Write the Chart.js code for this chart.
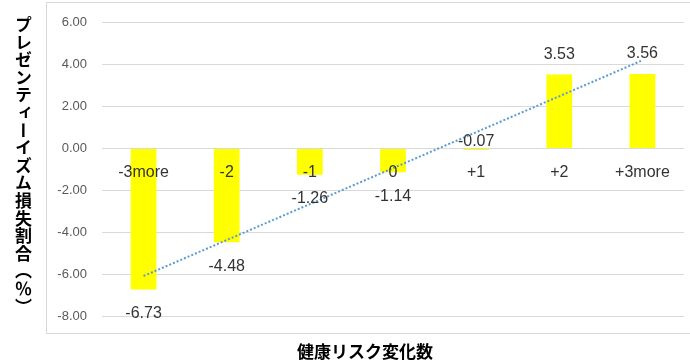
<!DOCTYPE html>
<html lang="ja">
<head>
<meta charset="utf-8">
<script src="https://cdn.jsdelivr.net/npm/chart.js@4.4.1/dist/chart.umd.min.js"></script>
<style>
    body { margin: 0; background: #fff; }
    #wrap { position: relative; width: 690px; height: 363px; overflow: hidden; }
    #frame { position: absolute; left: 46px; top: 2px; width: 660px; height: 330px; border: 1px solid #d9d9d9; }
    #grafico { position: absolute; left: 0; top: 0; }
    #tituloY {
        position: absolute; left: 14px; top: 16px;
        writing-mode: vertical-rl; text-orientation: upright;
        font-family: 'Noto Sans CJK JP', sans-serif; font-weight: bold;
        font-size: 17px; line-height: 18px; letter-spacing: 0.6px; color: #000;
    }
    #tituloX {
        position: absolute; left: 295px; top: 339px; width: 140px; text-align: center;
        font-family: 'Noto Sans CJK JP', sans-serif; font-weight: bold;
        font-size: 17px; line-height: 24px; color: #000; white-space: nowrap;
    }
</style>
</head>
<body>
<div id="wrap">
    <div id="frame"></div>
    <canvas id="grafico" width="690" height="363"></canvas>
    <div id="tituloY">プレゼンティーイズム損失割合︵％︶</div>
    <div id="tituloX">健康リスク変化数</div>
</div>
<script>
// categorias e valores
const categorias = ['-3more', '-2', '-1', '0', '+1', '+2', '+3more'];
const valores = [-6.73, -4.48, -1.26, -1.14, -0.07, 3.53, 3.56];
// linha de tendência (extremos)
const tendencia = [-6.09, null, null, null, null, null, 4.21];
const eixoY = { min: -8, max: 6, passo: 2 };

// rótulos das categorias (na linha do zero) e dos valores
const rotulos = {
    id: 'rotulos',
    afterDatasetsDraw(chart) {
        const ctx = chart.ctx;
        const y = chart.scales.y;
        const meta = chart.getDatasetMeta(1);
        const zero = y.getPixelForValue(0);
        ctx.save();
        ctx.font = '16px "Liberation Sans", Arial, sans-serif';
        ctx.textAlign = 'center';
        ctx.textBaseline = 'middle';
        ctx.fillStyle = '#333333';
        meta.data.forEach((bar, i) => {
            const v = valores[i];
            ctx.fillText(categorias[i], bar.x, zero + 24);
            const fim = y.getPixelForValue(v);
            let py;
            if (v >= 0) py = fim - 20;
            else if (v > -0.5) py = fim - 8;
            else py = fim + 24;
            ctx.fillText(v.toFixed(2), bar.x, py);
        });
        ctx.restore();
    }
};

new Chart(document.getElementById('grafico').getContext('2d'), {
    data: {
        labels: categorias,
        datasets: [{
            type: 'line',
            data: tendencia,
            spanGaps: true,
            borderColor: '#5b9bd5',
            borderWidth: 2,
            borderDash: [2, 2],
            pointRadius: 0,
            order: 0
        }, {
            type: 'bar',
            data: valores,
            backgroundColor: '#ffff00',
            borderWidth: 0,
            barPercentage: 0.31,
            categoryPercentage: 1,
            order: 1
        }]
    },
    options: {
        responsive: false,
        devicePixelRatio: 1,
        animation: false,
        layout: { padding: { left: 46, top: 18, right: 6, bottom: 47 } },
        scales: {
            x: { display: false },
            y: {
                min: eixoY.min,
                max: eixoY.max,
                afterFit(scale) { scale.width = 56; },
                border: { display: false },
                grid: { color: '#d9d9d9', lineWidth: 1, drawTicks: false },
                ticks: {
                    stepSize: eixoY.passo,
                    padding: 15,
                    color: '#595959',
                    font: { size: 13, family: "'Liberation Sans', Arial, sans-serif" },
                    callback: v => v.toFixed(2)
                }
            }
        },
        plugins: {
            legend: { display: false },
            tooltip: { enabled: false }
        }
    },
    plugins: [rotulos]
});
</script>
</body>
</html>
